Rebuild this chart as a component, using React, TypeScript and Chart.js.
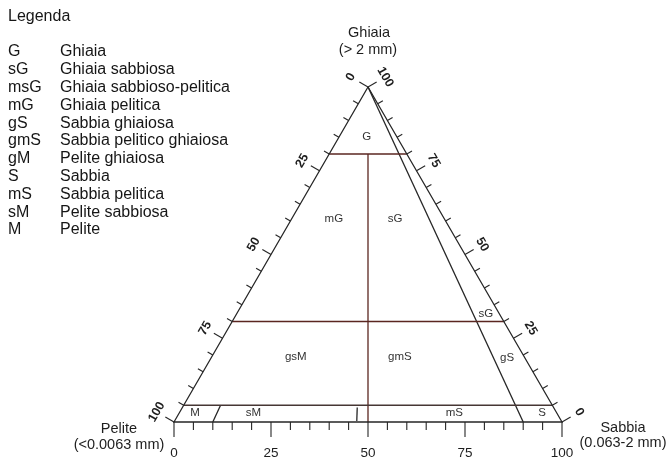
import React, { useEffect, useRef } from "react";
import { Chart, registerables } from "chart.js";

Chart.register(...registerables);

// ---- Data ----
const legendCodes = ["G", "sG", "msG", "mG", "gS", "gmS", "gM", "S", "mS", "sM", "M"];
const legendNames = [
  "Ghiaia",
  "Ghiaia sabbiosa",
  "Ghiaia sabbioso-pelitica",
  "Ghiaia pelitica",
  "Sabbia ghiaiosa",
  "Sabbia pelitico ghiaiosa",
  "Pelite ghiaiosa",
  "Sabbia",
  "Sabbia pelitica",
  "Pelite sabbiosa",
  "Pelite",
];

// horizontal class limits (% gravel)
const gravelLimits = [80, 30, 5];
// sand/(sand+mud) ratio lines, with gravel range they span
const ratioValues = [0.9, 0.5, 0.1, 0.471];
const ratioGravelFrom = [0, 0, 0, 0.3];
const ratioGravelTo = [100, 80, 5, 4.3];

// region labels (ternary: gravel %, sand %)
const regionCodes = ["G", "mG", "sG", "gsM", "gmS", "sG", "gS", "M", "sM", "mS", "S"];
const regionGravel = [85, 60.6, 60.6, 19.4, 19.4, 32.2, 19.1, 2.7, 2.7, 2.7, 2.7];
const regionSand = [7.2, 10.9, 26.7, 21.7, 48.5, 64.3, 76.3, 4.1, 19.1, 70.9, 93.5];

// axis ticks
const tickStep = 5;
const bottomTickLabels = [0, 25, 50, 75, 100];
const leftTickLabels = [0, 25, 50, 75, 100]; // mud %
const rightTickLabels = [100, 75, 50, 25, 0]; // gravel %

const FONT = "'Liberation Sans', Arial, sans-serif";

function tern(g: number, s: number) {
  return { x: s + g / 2, y: g };
}

export default function App() {
  const ref = useRef<HTMLCanvasElement>(null);

  useEffect(() => {
    if (!ref.current) return;
    const edgeColor = "#262626";
    const innerColor = "#5a2620";

    const datasets: any[] = [];
    datasets.push({
      data: [tern(100, 0), tern(0, 0), tern(0, 100), tern(100, 0)],
      borderColor: edgeColor,
      borderWidth: 1.3,
    });
    gravelLimits.forEach((g, i) => {
      datasets.push({
        data: [tern(g, 0), tern(g, 100 - g)],
        borderColor: i === 2 ? "#463634" : innerColor,
        borderWidth: 1.3,
      });
    });
    ratioValues.forEach((r, i) => {
      const gf = ratioGravelFrom[i];
      const gt = ratioGravelTo[i];
      datasets.push({
        data: [tern(gf, r * (100 - gf)), tern(gt, r * (100 - gt))],
        borderColor: i === 1 ? innerColor : edgeColor,
        borderWidth: 1.3,
      });
    });
    datasets.forEach((d) => {
      d.showLine = true;
      d.pointRadius = 0;
      d.clip = false;
      d.fill = false;
    });

    const overlay = {
      id: "ternaryOverlay",
      afterDatasetsDraw(chart: any) {
        const ctx = chart.ctx;
        const xs = chart.scales.x;
        const ys = chart.scales.y;
        const P = (g: number, s: number) => {
          const c = tern(g, s);
          return [xs.getPixelForValue(c.x), ys.getPixelForValue(c.y)];
        };
        ctx.save();
        ctx.strokeStyle = edgeColor;
        ctx.lineWidth = 1.1;

        // bottom axis (sand)
        for (let v = 0; v <= 100; v += tickStep) {
          const [px, py] = P(0, v);
          const len = v % 25 === 0 ? 15 : 8;
          ctx.beginPath();
          ctx.moveTo(px, py);
          ctx.lineTo(px, py + len);
          ctx.stroke();
        }
        ctx.fillStyle = "#1e1e1e";
        ctx.font = `13.5px ${FONT}`;
        ctx.textAlign = "center";
        ctx.textBaseline = "middle";
        bottomTickLabels.forEach((v) => {
          const [px, py] = P(0, v);
          ctx.fillText(String(v), px, py + 31);
        });

        // left edge (mud)
        const A = P(100, 0);
        const BL = P(0, 0);
        const BR = P(0, 100);
        let dx = A[0] - BL[0];
        let dy = A[1] - BL[1];
        let l = Math.hypot(dx, dy);
        const dL = [dx / l, dy / l];
        const nL = [dL[1], -dL[0]];
        for (let m = 0; m <= 100; m += tickStep) {
          const [px, py] = P(100 - m, 0);
          const len = m % 25 === 0 ? 10 : 6;
          ctx.beginPath();
          ctx.moveTo(px, py);
          ctx.lineTo(px + nL[0] * len, py + nL[1] * len);
          ctx.stroke();
        }
        ctx.font = `bold 12.5px ${FONT}`;
        const angL = Math.atan2(dL[1], dL[0]);
        leftTickLabels.forEach((m) => {
          const [px, py] = P(100 - m, 0);
          ctx.save();
          ctx.translate(px + nL[0] * 20, py + nL[1] * 20);
          ctx.rotate(angL);
          ctx.fillText(String(m), 0, 0);
          ctx.restore();
        });

        // right edge (gravel)
        dx = BR[0] - A[0];
        dy = BR[1] - A[1];
        l = Math.hypot(dx, dy);
        const dR = [dx / l, dy / l];
        const nR = [dR[1], -dR[0]];
        for (let g = 0; g <= 100; g += tickStep) {
          const [px, py] = P(g, 100 - g);
          const len = g % 25 === 0 ? 10 : 6;
          ctx.beginPath();
          ctx.moveTo(px, py);
          ctx.lineTo(px + nR[0] * len, py + nR[1] * len);
          ctx.stroke();
        }
        const angR = Math.atan2(dR[1], dR[0]);
        rightTickLabels.forEach((g) => {
          const [px, py] = P(g, 100 - g);
          ctx.save();
          ctx.translate(px + nR[0] * 20, py + nR[1] * 20);
          ctx.rotate(angR);
          ctx.fillText(String(g), 0, 0);
          ctx.restore();
        });

        // region labels
        ctx.font = `11.5px ${FONT}`;
        ctx.fillStyle = "#333";
        regionCodes.forEach((c, i) => {
          const [px, py] = P(regionGravel[i], regionSand[i]);
          ctx.fillText(c, px, py);
        });

        // vertex titles
        ctx.font = `14.5px ${FONT}`;
        ctx.fillStyle = "#1e1e1e";
        ctx.fillText("Ghiaia", A[0] + 1, A[1] - 54);
        ctx.fillText("(> 2 mm)", A[0], A[1] - 37);
        ctx.fillText("Pelite", BL[0] - 55, BL[1] + 7);
        ctx.fillText("(<0.0063 mm)", BL[0] - 55, BL[1] + 23);
        ctx.fillText("Sabbia", BR[0] + 61, BR[1] + 6);
        ctx.fillText("(0.063-2 mm)", BR[0] + 61, BR[1] + 21);

        // legend
        ctx.textAlign = "left";
        ctx.font = `16px ${FONT}`;
        ctx.fillStyle = "#161616";
        ctx.fillText("Legenda", 8, 17);
        legendCodes.forEach((c, i) => {
          const y = 52 + i * 17.8;
          ctx.fillText(c, 8, y);
          ctx.fillText(legendNames[i], 60, y);
        });
        ctx.restore();
      },
    };

    const chart = new Chart(ref.current, {
      type: "scatter",
      data: { datasets },
      options: {
        responsive: false,
        animation: false,
        events: [],
        layout: { padding: { left: 174, right: 105, top: 87, bottom: 39 } },
        plugins: { legend: { display: false }, tooltip: { enabled: false } },
        scales: {
          x: { type: "linear", min: 0, max: 100, display: false },
          y: { type: "linear", min: 0, max: 100, display: false },
        },
      },
      plugins: [overlay],
    });
    return () => chart.destroy();
  }, []);

  return (
    <div style={{ position: "absolute", left: 0, top: 0, width: 667, height: 461, background: "#fff" }}>
      <canvas ref={ref} width={667} height={461} style={{ display: "block", width: 667, height: 461 }} />
    </div>
  );
}
